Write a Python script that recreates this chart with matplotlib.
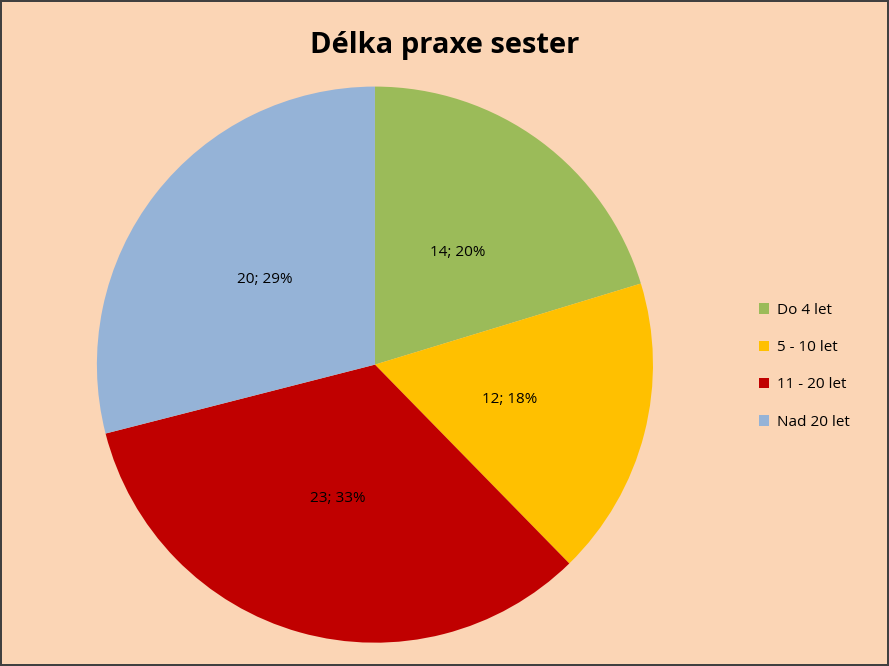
import matplotlib.pyplot as plt
from matplotlib.patches import Patch
import numpy as np

categories = ["Do 4 let", "5 - 10 let", "11 - 20 let", "Nad 20 let"]
counts = [14, 12, 23, 20]
percents = [20, 18, 33, 29]
colors = ["#9BBB59", "#FFC000", "#C00000", "#95B3D7"]

plt.rcParams["font.family"] = "Open Sans"

fig = plt.figure(figsize=(8.89, 6.66), dpi=100)
fig.patch.set_facecolor("#FBD5B5")
fig.patch.set_edgecolor("#404040")
fig.patch.set_linewidth(1.5)

ax = fig.add_axes([0.109, 0.035, 0.6255, 0.835])
ax.set_facecolor("none")
labels_txt = [f"{c}; {p}%" for c, p in zip(counts, percents)]
wedges, _ = ax.pie(counts, colors=colors, startangle=90, counterclock=False,
                   wedgeprops=dict(linewidth=0))
for w, t in zip(wedges, labels_txt):
    ang = np.deg2rad((w.theta1 + w.theta2) / 2)
    ax.text(0.5 * np.cos(ang), 0.5 * np.sin(ang), t, ha="center", va="center", fontsize=11)
ax.set_aspect("auto")
ax.set_xlim(-1, 1)
ax.set_ylim(-1, 1)

fig.text(0.5, 0.932, "Délka praxe sester", ha="center", va="center",
         fontsize=21, fontweight="bold")

handles = [Patch(facecolor=c, label=l) for c, l in zip(colors, categories)]
fig.legend(handles=handles, loc="center left", bbox_to_anchor=(0.838, 0.45),
           frameon=False, fontsize=11, handlelength=0.7, handleheight=0.7,
           labelspacing=1.45, handletextpad=0.5)

fig.savefig("out.png", dpi=100, facecolor=fig.get_facecolor(), edgecolor=fig.get_edgecolor())
